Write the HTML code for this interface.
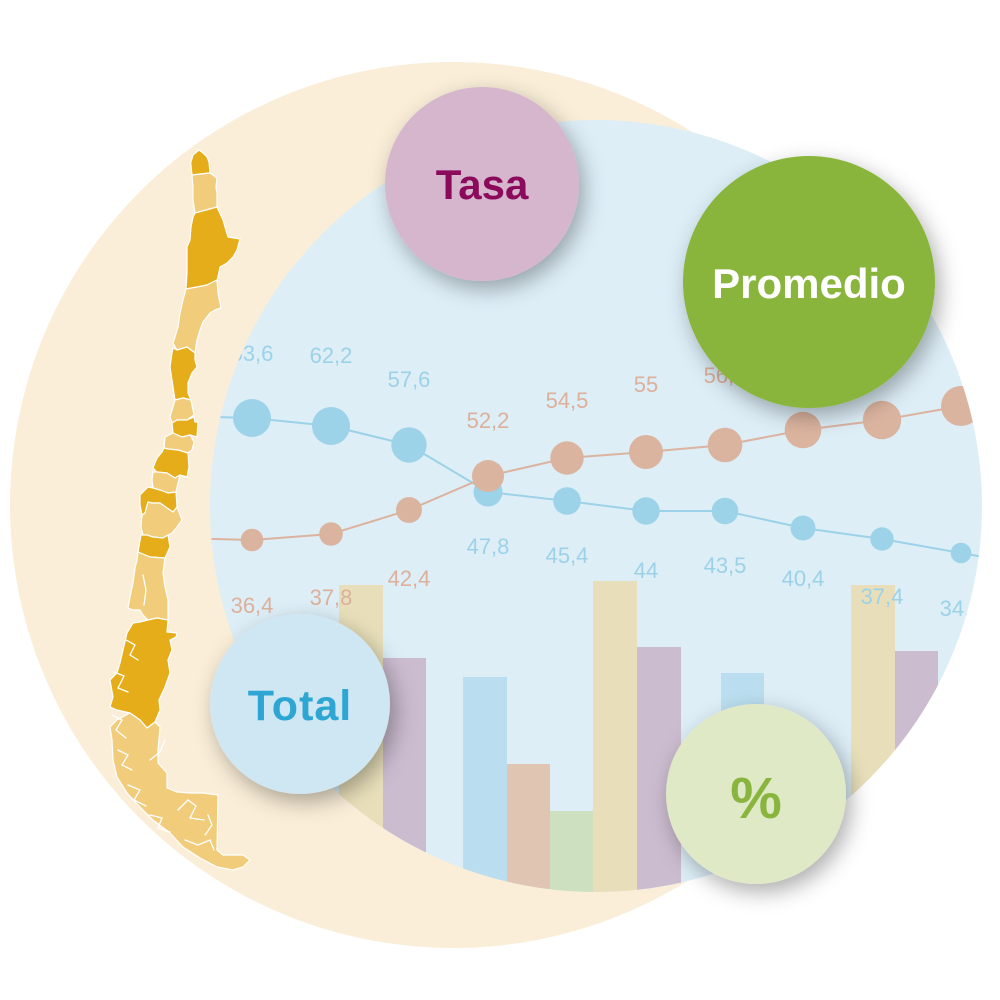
<!DOCTYPE html>
<html><head><meta charset="utf-8"><style>
html,body{margin:0;padding:0;background:#fff;}
svg{display:block;}
.lb{font-family:"Liberation Sans",sans-serif;font-size:22px;text-anchor:middle;}
.bl{fill:#9cd2e8;}
.or{fill:#dcb09a;}
.bt{font-family:"Liberation Sans",sans-serif;font-weight:bold;text-anchor:middle;}
</style></head><body>
<svg width="1000" height="1000" viewBox="0 0 1000 1000" xmlns="http://www.w3.org/2000/svg">
<defs>
<clipPath id="bc"><circle cx="596" cy="506" r="386"/></clipPath>
<filter id="sh" x="-50%" y="-50%" width="200%" height="200%">
<feDropShadow dx="5" dy="8" stdDeviation="11" flood-color="#000" flood-opacity="0.32"/>
</filter>
</defs>
<rect width="1000" height="1000" fill="#fff"/>
<circle cx="453" cy="505" r="443" fill="#faeed8"/>

<!-- Map of Chile -->
<g stroke="#fff" stroke-width="1.2" stroke-linejoin="round">
<polygon fill="#e6ad1b" points="190.7,163 193,155 199,150 203,153 207,157 209,162 210,173 200,174 192,175"/>
<polygon fill="#f1cc7b" points="192,175 210,173 217,178 216,187 217,193 217,200 217,207 207,210 195,213 193,200 193,187"/>
<polygon fill="#e6ad1b" points="195,213 217,207 223,220 225,227 228,237 240,239 237,250 233,257 227,263 220,267 218,277 217,280 207,285 197,287 186,289 187,273 187,260 187,247 190,240 191,227 193,217"/>
<polygon fill="#f1cc7b" points="186,289 197,287 207,285 217,280 218,293 221,308 215,310 210,313 203,322 200,330 197,340 195,353 187,347 177,350 173,343 175,337 178,327 180,313 183,300"/>
<polygon fill="#e6ad1b" points="173,348 177,350 187,347 195,353 195,360 197,367 192,373 188,383 188,393 191,400 183,398 175,400 173,387 170,367 172,353"/>
<polygon fill="#f1cc7b" points="175,400 183,398 191,400 193,410 194,415 187,420 177,420 172,423 170,417 173,407"/>
<polygon fill="#e6ad1b" points="172,423 177,420 187,420 194,417 195,422 198,422 197,437 190,435 182,437 173,433"/>
<polygon fill="#f1cc7b" points="173,433 182,437 190,435 194,442 192,450 188,453 178,450 168,449 164,448 165,437"/>
<polygon fill="#e6ad1b" points="164,448 168,449 178,450 188,453 189,467 187,477 180,475 175,478 167,473 157,472 153,468 157,458 162,452"/>
<polygon fill="#f1cc7b" points="153,472 157,472 167,473 175,478 180,475 178,483 176,492 168,493 160,490 153,488 152,480"/>
<polygon fill="#e6ad1b" points="140,495 148,487 153,488 160,490 168,493 176,492 177,507 173,512 167,508 160,503 152,503 148,502 145,513 142,515 140,505"/>
<polygon fill="#f1cc7b" points="142,515 145,513 148,502 152,503 160,503 167,508 173,512 177,507 182,520 177,527 172,533 163,538 153,537 147,535 143,535 141,527"/>
<polygon fill="#e6ad1b" points="141,535 147,535 153,537 163,538 168,535 170,547 165,558 150,557 138,552"/>
<polygon fill="#f1cc7b" points="138,552 150,557 165,558 163,573 165,587 168,600 168,620 157,618 148,620 143,615 140,610 133,610 128,608 130,597 133,583 135,568 137,560"/>
<polygon fill="#e6ad1b" points="148,620 157,618 168,620 167,632 177,633 176,637 170,640 172,650 168,660 170,673 165,687 159,700 160,710 155,722 147,728 140,720 130,713 117,710 110,707 113,697 110,680 117,673 120,663 123,650 127,633 133,623 140,622"/>
<polygon fill="#f1cc7b" points="147,728 155,722 160,727 158,750 158,763 167,773 167,788 177,792 190,793 203,793 218,795 217,850 223,855 243,855 250,860 243,867 233,870 217,867 200,858 183,847 170,833 153,820 140,807 127,793 117,777 113,760 112,740 110,727 117,720 130,713 140,720"/>
</g>
<g stroke="#fff" stroke-width="1.3" fill="none" stroke-linecap="round">
<polyline points="143,575 146,590 144,605"/>
<polyline points="126,640 135,645 130,655 138,660"/>
<polyline points="114,672 124,676 118,688 128,692"/>
<polyline points="112,715 122,720 116,730 126,738"/>
<polyline points="118,750 128,755 122,765 132,770"/>
<polyline points="128,785 140,790 134,800 146,806"/>
<polyline points="150,815 162,818 158,828 170,832"/>
<polyline points="178,810 188,800 196,806 190,818 204,820"/>
<polyline points="185,840 198,845 210,840 214,850"/>
<polyline points="165,740 160,752 150,760"/>
<polyline points="205,835 212,825 208,815"/>
</g>

<!-- Blue circle -->
<circle cx="596" cy="506" r="386" fill="#ddeef7"/>

<g clip-path="url(#bc)">
<!-- Bars -->
<rect x="339" y="585" width="44" height="320" fill="#e8dfba"/>
<rect x="383" y="658" width="43" height="250" fill="#cbbccf"/>
<rect x="463" y="677" width="44" height="230" fill="#badef0"/>
<rect x="507" y="764" width="43" height="140" fill="#e0c5b3"/>
<rect x="550" y="811" width="43" height="100" fill="#cde0bf"/>
<rect x="593" y="581" width="44" height="320" fill="#e8dfba"/>
<rect x="637" y="647" width="44" height="260" fill="#cbbccf"/>
<rect x="721" y="673" width="43" height="230" fill="#badef0"/>
<rect x="851" y="585" width="44" height="320" fill="#e8dfba"/>
<rect x="895" y="651" width="43" height="260" fill="#cbbccf"/>

<!-- Lines -->
<polyline fill="none" stroke="#9cd2e8" stroke-width="2" points="173,416 252,418 331,426 409,445 488,492 567,501 646,511 725,511 803,528 882,539 961,553 1040,567"/>
<polyline fill="none" stroke="#dbb39f" stroke-width="2" points="173,538 252,540 331,534 409,510 488,476 567,458 646,452 725,445 803,430 882,420 961,406 1040,392"/>

<!-- Blue dots -->
<g fill="#9dd3e8">
<circle cx="252" cy="418" r="19"/>
<circle cx="331" cy="426" r="19"/>
<circle cx="409" cy="445" r="17.7"/>
<circle cx="488" cy="492" r="14.5"/>
<circle cx="567" cy="501" r="13.8"/>
<circle cx="646" cy="511" r="13.7"/>
<circle cx="725" cy="511" r="13.3"/>
<circle cx="803" cy="528" r="12.5"/>
<circle cx="882" cy="539" r="11.7"/>
<circle cx="961" cy="553" r="10.3"/>
</g>
<!-- Orange dots -->
<g fill="#dbb49f">
<circle cx="252" cy="540" r="11.3"/>
<circle cx="331" cy="534" r="11.8"/>
<circle cx="409" cy="510" r="13"/>
<circle cx="488" cy="476" r="16"/>
<circle cx="567" cy="458" r="16.7"/>
<circle cx="646" cy="452" r="17"/>
<circle cx="725" cy="445" r="17.3"/>
<circle cx="803" cy="430" r="18.3"/>
<circle cx="882" cy="420" r="19.2"/>
<circle cx="961" cy="406" r="20"/>
</g>

<!-- Labels -->
<text class="lb bl" x="252" y="361">63,6</text>
<text class="lb bl" x="331" y="363">62,2</text>
<text class="lb bl" x="409" y="387">57,6</text>
<text class="lb bl" x="488" y="554">47,8</text>
<text class="lb bl" x="567" y="563">45,4</text>
<text class="lb bl" x="646" y="578">44</text>
<text class="lb bl" x="725" y="573">43,5</text>
<text class="lb bl" x="803" y="586">40,4</text>
<text class="lb bl" x="882" y="604">37,4</text>
<text class="lb bl" x="961" y="616">34,3</text>

<text class="lb or" x="252" y="613">36,4</text>
<text class="lb or" x="331" y="605">37,8</text>
<text class="lb or" x="409" y="586">42,4</text>
<text class="lb or" x="488" y="428">52,2</text>
<text class="lb or" x="567" y="408">54,5</text>
<text class="lb or" x="646" y="392">55</text>
<text class="lb or" x="725" y="383">56,1</text>
</g>

<!-- Bubbles -->
<circle cx="482" cy="184" r="97" fill="#d5b6cd" filter="url(#sh)"/>
<text class="bt" x="482" y="199" font-size="42" fill="#8b0a5c">Tasa</text>

<circle cx="809" cy="282" r="126" fill="#89b53e" filter="url(#sh)"/>
<text class="bt" x="809" y="298" font-size="42" fill="#ffffff">Promedio</text>

<circle cx="300" cy="704" r="90" fill="#cfe6f3" filter="url(#sh)"/>
<text class="bt" x="300" y="720" font-size="43" fill="#2ea6d4" letter-spacing="1">Total</text>

<circle cx="756" cy="794" r="90" fill="#dfe9c6" filter="url(#sh)"/>
<text class="bt" x="756" y="818" font-size="58" fill="#89b53e">%</text>
</svg>
</body></html>
